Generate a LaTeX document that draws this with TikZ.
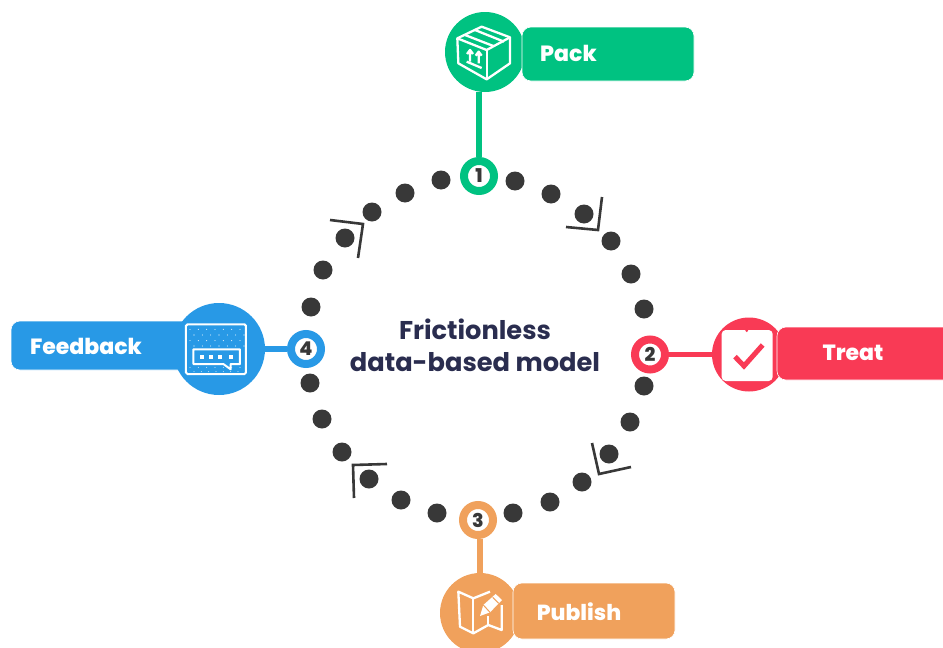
\documentclass[tikz,border=0pt]{standalone}
\usepackage{fontspec}
\setmainfont{Poppins}
\newfontfamily\heavy{Poppins ExtraBold}
\definecolor{cgreen}{HTML}{00C281}
\definecolor{cred}{HTML}{F93A55}
\definecolor{corange}{HTML}{F0A15C}
\definecolor{cblue}{HTML}{2899E6}
\definecolor{cdot}{HTML}{383838}
\definecolor{cnavy}{HTML}{2A2D4F}
\tikzset{
  dotnode/.style={circle,fill=cdot,minimum size=19pt,inner sep=0pt},
  hubnode/.style={circle,fill=white,draw=#1,line width=8pt,minimum size=30pt,inner sep=0pt,text=cdot,font=\heavy\fontsize{19}{19}\selectfont},
  labelnode/.style={rounded corners=9pt,fill=#1,draw=white,line width=0.6pt,inner sep=0pt},
  labeltext/.style={text=white,inner sep=0pt,font=\heavy\fontsize{#1}{22}\selectfont},
  conn/.style={line width=5.5pt},
  bracket/.style={draw=cdot,line width=2.6pt},
  iconline/.style={draw=white,line width=2.3pt,line join=round}
}
\begin{document}
\begin{tikzpicture}[x=1pt,y=-1pt]
\useasboundingbox (0,0) rectangle (943,648);
\clip (0,0) rectangle (943,648);
% dots
\foreach \n/\a/\b in {a/441/180,b/515/181,c/551/194,d/584/214,e/611/241,f/631/274,g/644/309,h/644/386,i/630/422,j/609/454,k/582/482,l/550/502,m/513/513,n/437/513,o/401/500,p/369/479,q/342/452,r/322/419,s/310/383,t/311/307,u/323/270,v/345/238,w/372/212,x/405/193}
  \node[dotnode] (dot\n) at (\a,\b) {};
% brackets
\draw[bracket] (330,220) -- (363,224) -- (358,258);
\draw[bracket] (602,197) -- (598,230) -- (566,227);
\draw[bracket] (592,443) -- (599,474) -- (631,467);
\draw[bracket] (387,464) -- (353,465) -- (354,498);
% big circles and labels
\node[circle,fill=cgreen,minimum size=80pt,inner sep=0pt] (bigA) at (485,52) {};
\node[labelnode=cgreen,minimum width=172pt,minimum height=54pt] (labA) at (608,54) {};
\node[circle,fill=cred,minimum size=74pt,inner sep=0pt] (bigB) at (749,354.5) {};
\node[labelnode=cred,minimum width=190pt,minimum height=53pt] (labB) at (872,353.5) {};
\node[circle,fill=corange,minimum size=80pt,inner sep=0pt] (bigC) at (480,613) {};
\node[labelnode=corange,minimum width=162pt,minimum height=56pt] (labC) at (594,611) {};
\node[labelnode=cblue,minimum width=200pt,minimum height=49pt] (labD) at (111,345.5) {};
\node[circle,fill=cblue,minimum size=92pt,inner sep=0pt] (bigD) at (219,349) {};
% label text
\node[labeltext=22] (txtA) at (568.5,53.5) {Pack};
\node[labeltext=22] (txtB) at (853,352.5) {Treat};
\node[labeltext=21.8] (txtC) at (579,612) {Publish};
\node[labeltext=22] (txtD) at (86,346.5) {Feedback};
% hubs
\node[hubnode=cgreen] (hubA) at (479,176) {1};
\node[hubnode=cred] (hubB) at (650,354.5) {2};
\node[hubnode=corange] (hubC) at (478,520) {3};
\node[hubnode=cblue] (hubD) at (306,349) {4};
% connectors
\draw[conn,cgreen] (bigA.south -| hubA) -- (hubA.north);
\draw[conn,cred] (hubB.east) -- (bigB.west);
\draw[conn,corange] (hubC.south -| bigC) -- (bigC.north);
\draw[conn,cblue] (bigD.east) -- (hubD.west);
% centre
\node[align=center,text=cnavy,font=\bfseries\fontsize{25.7}{32}\selectfont] (title) at (475,345.5) {Frictionless\\data-based model};
% box icon
\begin{scope}[shift={(430,0)},scale=1/3]
\draw[iconline] (82,115) -- (155,80) -- (240,112) -- (240,190) -- (170,238) -- (85,190) -- cycle;
\draw[iconline] (82,115) -- (170,150) -- (240,112);
\draw[iconline] (170,150) -- (170,238);
\draw[iconline] (105,105) -- (190,138);
\draw[iconline] (135,90) -- (222,125);
\draw[iconline] (120,185) -- (120,152) (111,162) -- (120,150) -- (129,162);
\draw[iconline] (146,190) -- (146,157) (137,167) -- (146,155) -- (155,167);
\draw[iconline] (110,185) -- (155,204);
\end{scope}
% clipboard icon
\begin{scope}[shift={(620,300)},scale=1/3]
\fill[white,rounded corners=4pt] (305,90) rectangle (458,243);
\fill[cred] (380,92) circle (4.5pt);
\draw[cred,line width=5pt,line join=miter] (345,170) -- (372,198) -- (428,135);
\end{scope}
% feedback icon
\begin{scope}[shift={(0,290)},scale=1/3]
\draw[draw=white,line width=2pt,rounded corners=1.5pt] (558,103) rectangle (738,252);
\foreach \r/\yy in {0/118,1/135,0/152,1/168}
  \foreach \c in {0,...,6}
    \fill[white] ({570+\c*25+\r*12},\yy) circle (1.6pt);
\foreach \c in {0,...,6} {
  \fill[white] ({570+\c*25},232) circle (1.4pt);
  \fill[white] ({582+\c*22},245) circle (1.4pt);
}
\filldraw[fill=cblue,draw=white,line width=2pt,line join=round] (580,178) -- (720,178) -- (720,222) -- (692,222) -- (692,238) -- (670,222) -- (580,222) -- cycle;
\foreach \c in {605,632,660,692}
  \fill[white] (\c-6,194) rectangle (\c+6,206);
\end{scope}
% map icon
\begin{scope}[shift={(430,490)},scale=1/3]
\draw[iconline] (180,305) -- (130,325) -- (85,305) -- (90,410) -- (130,430) -- (175,405) -- (215,420) -- (215,345);
\draw[iconline] (130,325) -- (130,430);
\draw[iconline] (175,378) -- (175,405);
\fill[white] (150,378) -- (160,345) -- (197,312) -- (216,330) -- (180,367) -- cycle;
\draw[corange,line width=1pt] (160,345) -- (180,367);
\draw[corange,line width=1pt] (188,322) -- (206,340);
\end{scope}
\end{tikzpicture}
\end{document}
